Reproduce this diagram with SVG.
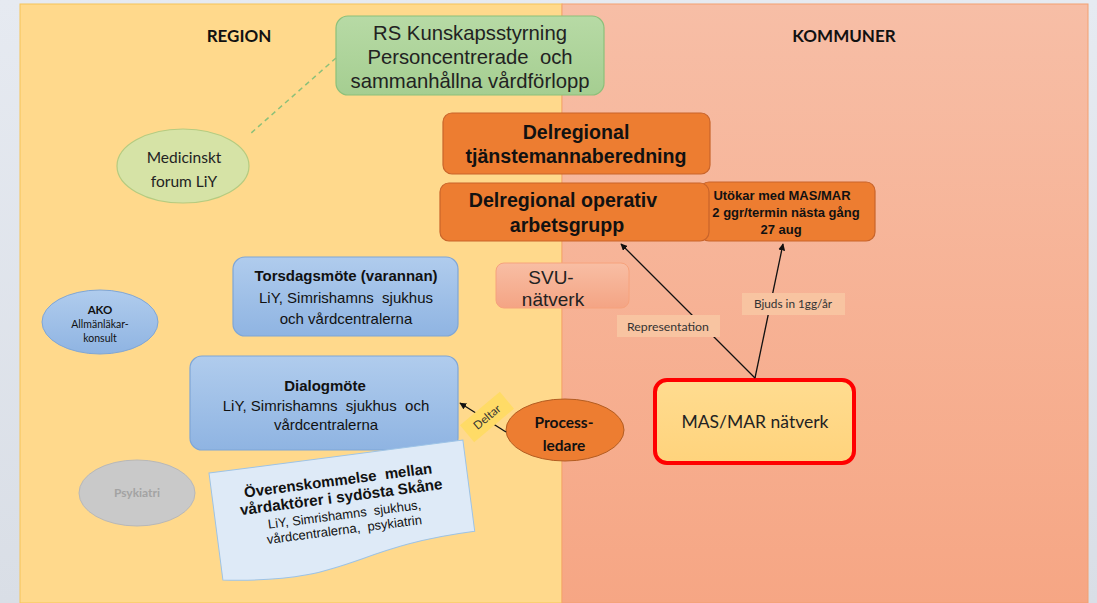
<svg xmlns="http://www.w3.org/2000/svg" width="1097" height="603" viewBox="0 0 1097 603">
<defs>
<linearGradient id="bgOut" x1="0" y1="0" x2="0" y2="1"><stop offset="0" stop-color="#e6eaf1"/><stop offset="1" stop-color="#d9dee6"/></linearGradient>
<linearGradient id="kom" x1="0" y1="0" x2="0" y2="1"><stop offset="0" stop-color="#f7bea6"/><stop offset="1" stop-color="#f6a684"/></linearGradient>
<linearGradient id="green" x1="0" y1="0" x2="0" y2="1"><stop offset="0" stop-color="#b7daa5"/><stop offset="1" stop-color="#a5ce91"/></linearGradient>
<linearGradient id="blue" x1="0" y1="0" x2="0" y2="1"><stop offset="0" stop-color="#b0cced"/><stop offset="1" stop-color="#8fb4e2"/></linearGradient>
<linearGradient id="svu" x1="0" y1="0" x2="0" y2="1"><stop offset="0" stop-color="#f8bea4"/><stop offset="1" stop-color="#f4a484"/></linearGradient>
<linearGradient id="mas" x1="0" y1="0" x2="0" y2="1"><stop offset="0" stop-color="#ffdc90"/><stop offset="1" stop-color="#ffd37c"/></linearGradient>
<marker id="arr" viewBox="0 0 10 10" refX="9" refY="5" markerWidth="7" markerHeight="7" orient="auto-start-reverse" markerUnits="userSpaceOnUse"><path d="M0,0 L10,5 L0,10 z" fill="#111"/></marker>
</defs>
<style>
.ar{font-family:"Liberation Sans",Arial,sans-serif;text-anchor:middle}
.ca{font-family:Lato,"Open Sans",sans-serif;text-anchor:middle}
.b{font-weight:bold}
.dark{fill:#111}
.orange{fill:#ed7d31;stroke:#c9642a;stroke-width:1.2}
.bluebox{fill:url(#blue);stroke:#7fa6d6;stroke-width:1.2}
.lbl{fill:#f8c4a1}
.conn{stroke:#111;stroke-width:1.3;fill:none}
</style>
<rect x="0" y="0" width="1097" height="603" fill="url(#bgOut)"/>
<g id="region-panel">
<rect x="20" y="4" width="542" height="599" fill="#ffd98c" stroke="#f6c459" stroke-width="1"/>
<text x="239" y="42" class="ca b dark" font-size="17">REGION</text>
</g>
<g id="kommuner-panel">
<rect x="562" y="4" width="526" height="599" fill="url(#kom)" stroke="#f3a070" stroke-width="1"/>
<text x="844" y="42" class="ca b dark" font-size="17">KOMMUNER</text>
</g>
<g id="rs-kunskap">
<rect x="336" y="16" width="268" height="79" rx="12" fill="url(#green)" stroke="#8cc07a" stroke-width="1.2"/>
<text class="ar" font-size="20.3" fill="#222" xml:space="preserve"><tspan x="470" y="40">RS Kunskapsstyrning</tspan><tspan x="470" y="64">Personcentrerade  och</tspan><tspan x="470" y="88">sammanhållna vårdförlopp</tspan></text>
</g>
<g id="medicinskt-forum">
<ellipse cx="183" cy="166" rx="66" ry="37" fill="#d6e3a6" stroke="#b5cb80" stroke-width="1.2"/>
<text class="ca" font-size="15.5" fill="#222"><tspan x="184" y="163">Medicinskt</tspan><tspan x="184" y="187">forum LiY</tspan></text>
</g>
<g id="tjanstemannaberedning">
<rect x="443" y="113" width="267" height="61" rx="9" class="orange"/>
<text class="ar b dark" font-size="19.6"><tspan x="576" y="139">Delregional</tspan><tspan x="576" y="163">tjänstemannaberedning</tspan></text>
</g>
<g id="utokar">
<rect x="700" y="182" width="175" height="59" rx="9" class="orange"/>
<text class="ar b dark" font-size="13"><tspan x="782" y="200">Utökar med MAS/MAR</tspan><tspan x="786" y="217">2 ggr/termin nästa gång</tspan><tspan x="781" y="234">27 aug</tspan></text>
</g>
<g id="operativ-arbetsgrupp">
<rect x="440" y="183" width="269" height="58" rx="9" class="orange"/>
<text class="ar b dark" font-size="19.6"><tspan x="563" y="207">Delregional operativ</tspan><tspan x="567" y="232">arbetsgrupp</tspan></text>
</g>
<g id="svu-natverk">
<rect x="496" y="263" width="133" height="45" rx="8" fill="url(#svu)" stroke="#f6a27c" stroke-width="1"/>
<text class="ar" font-size="19" fill="#222"><tspan x="551" y="284">SVU-</tspan><tspan x="553" y="306">nätverk</tspan></text>
</g>
<g id="torsdagsmote">
<rect x="233" y="257" width="225" height="79" rx="12" class="bluebox"/>
<text class="ar dark" font-size="15" xml:space="preserve"><tspan x="346" y="281" font-weight="bold">Torsdagsmöte (varannan)</tspan><tspan x="346" y="303">LiY, Simrishamns  sjukhus</tspan><tspan x="346" y="324">och vårdcentralerna</tspan></text>
</g>
<g id="ako">
<ellipse cx="100" cy="322" rx="58" ry="32" fill="url(#blue)" stroke="#7fa6d6" stroke-width="1"/>
<text class="ca dark"><tspan x="100" y="314" font-size="11.5" font-weight="bold">AKO</tspan><tspan x="100" y="328" font-size="10.5">Allmänläkar-</tspan><tspan x="100" y="342" font-size="10.5">konsult</tspan></text>
</g>
<g id="dialogmote">
<rect x="190" y="356" width="268" height="94" rx="12" class="bluebox"/>
<text class="ar dark" font-size="15" xml:space="preserve"><tspan x="325" y="391" font-weight="bold">Dialogmöte</tspan><tspan x="326" y="411">LiY, Simrishamns  sjukhus  och</tspan><tspan x="326" y="430">vårdcentralerna</tspan></text>
</g>
<g id="psykiatri">
<ellipse cx="137" cy="493" rx="58" ry="33" fill="#c9c9c9" stroke="#b8b8b8" stroke-width="1"/>
<text x="137" y="497" class="ca b" font-size="12" fill="#a3a3a3">Psykiatri</text>
</g>
<g id="overenskommelse" transform="translate(209,473) rotate(-7.4)">
<path d="M0,0 H256 V92 C128,92 128,128 0,108 Z" fill="#deeaf7" stroke="#9dc3e6" stroke-width="1"/>
<text class="ar dark" xml:space="preserve"><tspan x="127" y="29" font-size="15" font-weight="bold">Överenskommelse  mellan</tspan><tspan x="128" y="46" font-size="15.3" font-weight="bold">vårdaktörer i sydösta Skåne</tspan><tspan x="129" y="63" font-size="13">LiY, Simrishamns  sjukhus,</tspan><tspan x="127" y="78" font-size="13">vårdcentralerna,  psykiatrin</tspan></text>
</g>
<g id="processledare">
<ellipse cx="565" cy="430" rx="59" ry="31" fill="#ed7d31" stroke="#b35d22" stroke-width="1"/>
<text class="ca b dark" font-size="15.5"><tspan x="564" y="428">Process-</tspan><tspan x="564" y="451">ledare</tspan></text>
</g>
<g id="mas-mar">
<rect x="655" y="380" width="199" height="83" rx="12" fill="url(#mas)" stroke="#ff0000" stroke-width="4"/>
<text x="755" y="428" class="ca" font-size="17.5" fill="#222">MAS/MAR nätverk</text>
</g>
<g id="connectors">
<line x1="336" y1="58" x2="250" y2="134" stroke="#8cc07a" stroke-width="1.5" stroke-dasharray="5,4"/>
<line x1="755" y1="378" x2="621" y2="244" class="conn" marker-end="url(#arr)"/>
<line x1="755" y1="378" x2="783" y2="244" class="conn" marker-end="url(#arr)"/>
<line x1="506" y1="432" x2="460" y2="403" class="conn" marker-end="url(#arr)"/>
<rect x="617" y="315" width="103" height="22" class="lbl"/>
<text x="668" y="331" class="ca" font-size="12.3" fill="#333">Representation</text>
<rect x="742" y="293" width="103" height="22" class="lbl"/>
<text x="793" y="308" class="ca" font-size="11.8" fill="#333">Bjuds in 1gg/år</text>
<g transform="translate(487,417) rotate(-40)">
<rect x="-26" y="-11" width="52" height="22" fill="#ffdb66"/>
<text x="0" y="4" class="ca" font-size="11.5" fill="#333">Deltar</text>
</g>
</g>
</svg>
